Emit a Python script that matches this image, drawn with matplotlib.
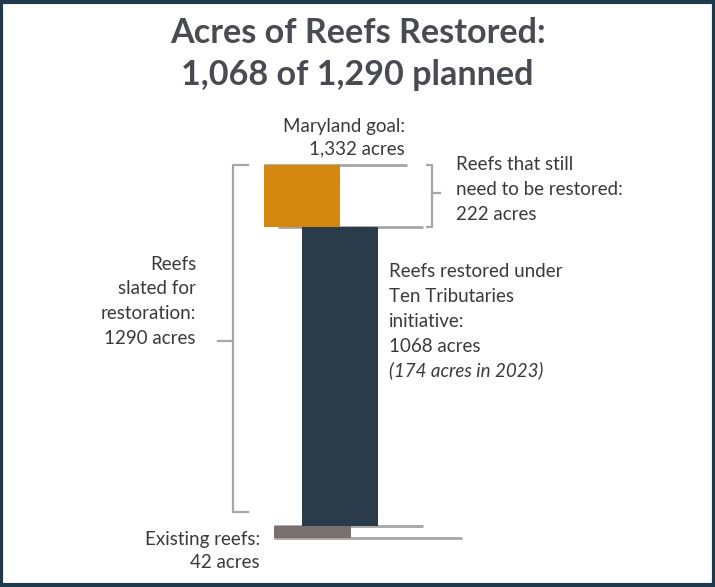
import matplotlib
matplotlib.use("Agg")
import matplotlib.pyplot as plt
from matplotlib.patches import Rectangle

# Reef acreage (Maryland oyster reef restoration)
segments = ["Existing reefs", "Restored (Ten Tributaries)", "Still to be restored"]
acres = [42, 1068, 222]
goal_acres = 1332
slated_acres = 1290
restored_2023 = 174

TEXT = "#3a3a3a"
TITLE = "#4a4a52"
LINE = "#a6a6a6"
COL_EXIST = "#787070"
COL_DONE = "#2b3b4a"
COL_TODO = "#d4880f"

W, H = 715, 587
fig = plt.figure(figsize=(W / 100, H / 100), dpi=100)
fig.patch.set_facecolor("white")

# vertical scale: acres, horizontal: layout units across the canvas
base_px, top_px = 538, 165
k = (base_px - top_px) / goal_acres
ax = fig.add_axes([0, 0, 1, 1])
ax.set_xlim(0, W)
ax.set_ylim(-(H - base_px) / k, base_px / k)
ax.axis("off")

def yv(px):
    # layout pixel row -> acres
    return (base_px - px) / k

existing, restored, remaining = acres
b1 = existing
b2 = existing + restored
b3 = b2 + remaining

# shelf lines at each boundary
ax.hlines(b3, 264, 407, color=LINE, lw=2, zorder=1)
ax.hlines(b2, 278, 423, color=LINE, lw=2, zorder=1)
ax.hlines(b1, 274, 423, color=LINE, lw=2, zorder=1)
ax.hlines(0, 274, 462, color=LINE, lw=2, zorder=1)

# stacked segments
ax.bar(312.5, existing, bottom=0, width=77, color=COL_EXIST, zorder=2)
ax.bar(340, restored, bottom=b1, width=76, color=COL_DONE, zorder=2)
ax.bar(302, remaining, bottom=b2, width=76, color=COL_TODO, zorder=2)

# braces
def brace(x, y_top, y_bot, hook, tick, y_mid):
    ax.plot([x + hook, x, x, x + hook], [y_top, y_top, y_bot, y_bot],
            color=LINE, lw=1.6, solid_joinstyle="round", zorder=1)
    ax.plot([x, x + tick], [y_mid, y_mid], color=LINE, lw=1.6, zorder=1)

brace(233, b3, yv(512), 15, -15, yv(341))
brace(432, b3, b2, -5, 8, yv(193))

font = "Lato"
fs = 13.5

fig.text(0.5, 1 - 33 / H, "Acres of Reefs Restored:", ha="center", va="center",
         fontsize=24.6, fontweight="bold", color=TITLE, family=font)
fig.text(0.5, 1 - 75 / H, "1,068 of 1,290 planned", ha="center", va="center",
         fontsize=24.6, fontweight="bold", color=TITLE, family=font)

def label(x, rows, lines, ha, italic_last=False):
    for i, (r, s) in enumerate(zip(rows, lines)):
        style = "italic" if (italic_last and i == len(lines) - 1) else "normal"
        ax.text(x, yv(r), s, ha=ha, va="center_baseline", fontsize=fs,
                color=TEXT, family=font, style=style)

label(405, [125, 147], ["Maryland goal:", f"{goal_acres:,} acres"], "right")
label(456, [163, 188, 213],
      ["Reefs that still", "need to be restored:", f"{remaining} acres"], "left")
label(196, [263, 287, 312, 337],
      ["Reefs", "slated for", "restoration:", f"{slated_acres} acres"], "right")
label(389, [270, 295, 320, 345, 369],
      ["Reefs restored under", "Ten Tributaries", "initiative:",
       f"{restored} acres", f"({restored_2023} acres in 2023)"], "left",
      italic_last=True)
label(260, [538, 561], ["Existing reefs:", f"{existing} acres"], "right")

# frame around the whole graphic
fig.patches.append(Rectangle((0.002, 0.003), 0.996, 0.994, transform=fig.transFigure,
                             fill=False, edgecolor="#1f3a4d", lw=3))

fig.savefig("out.png", dpi=100)
